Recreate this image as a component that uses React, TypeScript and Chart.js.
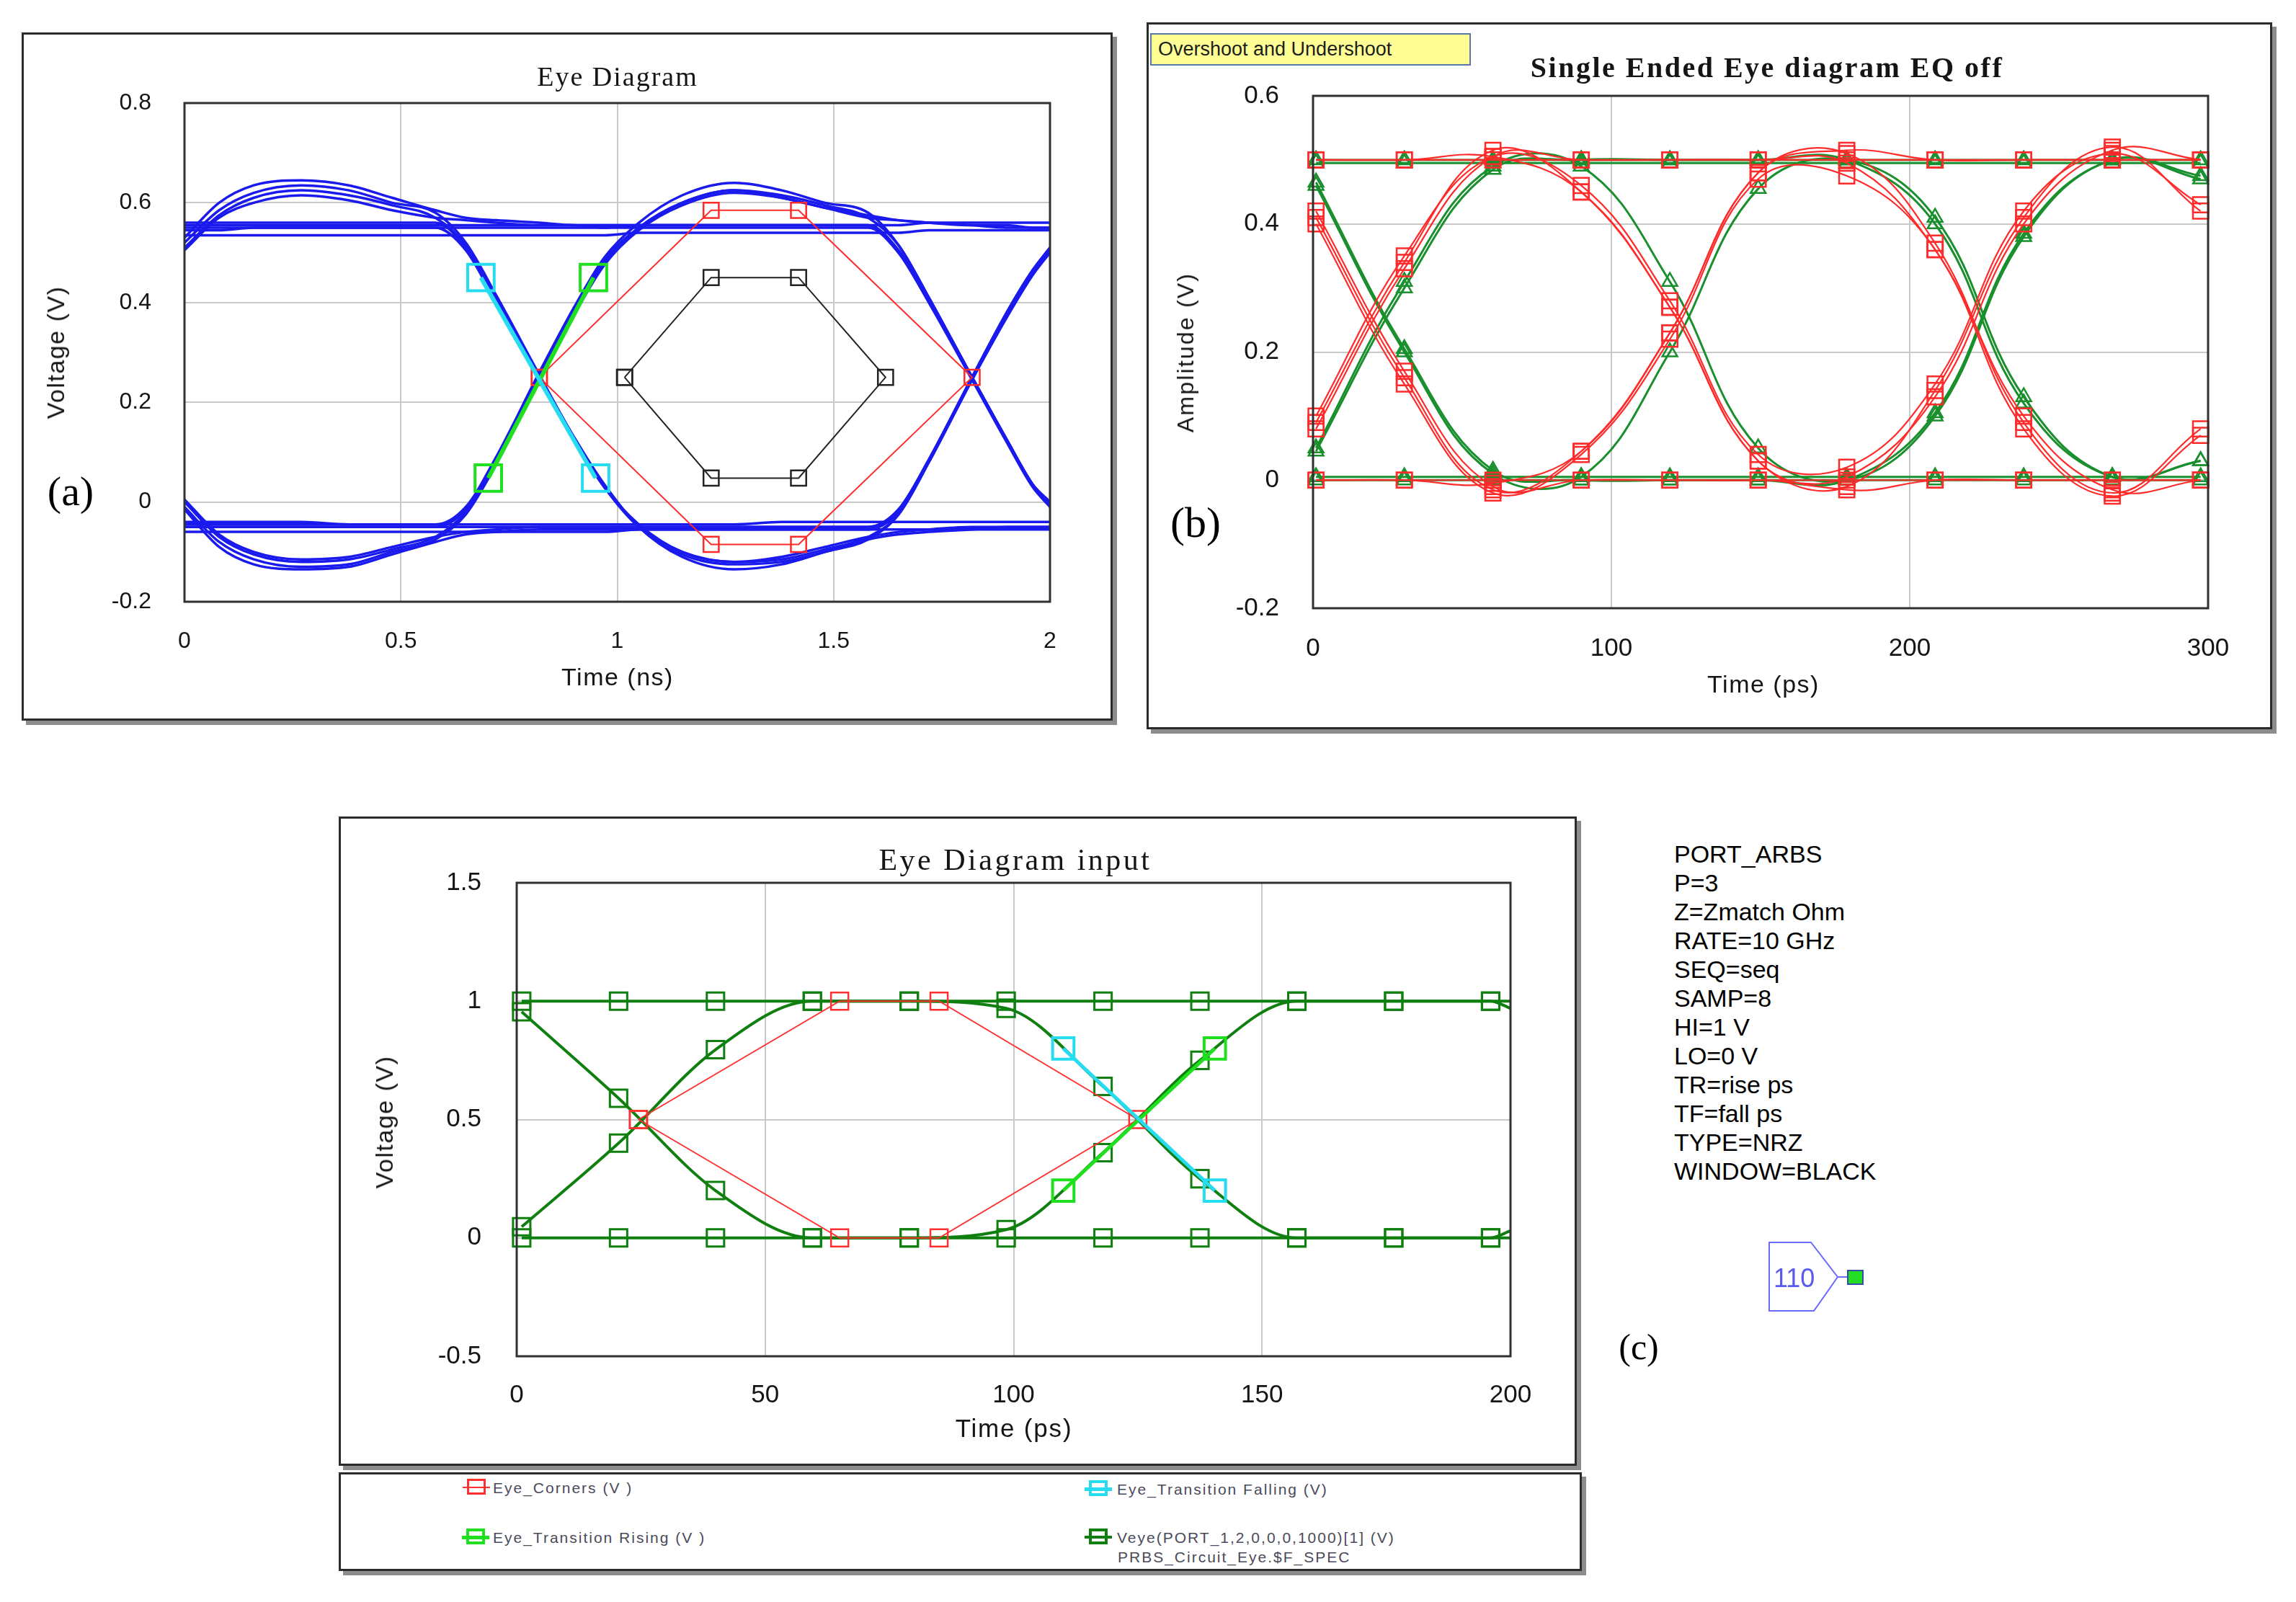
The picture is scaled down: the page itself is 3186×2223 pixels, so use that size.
import React, { useEffect, useRef } from "react";
import { Chart, registerables } from "chart.js";

Chart.register(...registerables);

const SANS = "'Liberation Sans', Arial, Helvetica, sans-serif";
const SERIF = "'Liberation Serif', 'Times New Roman', serif";

// ================= Panel (a): Eye Diagram =================
const A_X_TICKS = [0, 0.5, 1, 1.5, 2];
const A_Y_TICKS = [-0.2, 0, 0.2, 0.4, 0.6, 0.8];
const A_TIME_NS = [0, 0.08, 0.16, 0.27, 0.38, 0.48, 0.58, 0.65, 0.72, 0.82, 0.9, 0.97, 1.05, 1.15, 1.27, 1.38, 1.48, 1.58, 1.65, 1.72, 1.82, 1.9, 1.96, 2.0];
const A_V_01 = [0.51, 0.575, 0.61, 0.625, 0.615, 0.595, 0.57, 0.515, 0.41, 0.25, 0.125, 0.03, -0.05, -0.1, -0.12, -0.115, -0.095, -0.07, -0.025, 0.08, 0.25, 0.38, 0.465, 0.51];
const A_V_02 = [0.0, -0.07, -0.105, -0.12, -0.115, -0.095, -0.07, -0.02, 0.08, 0.25, 0.38, 0.48, 0.55, 0.6, 0.625, 0.615, 0.595, 0.57, 0.515, 0.41, 0.25, 0.125, 0.035, 0.0];
const A_V_03 = [0.505, 0.57, 0.6, 0.615, 0.605, 0.585, 0.57, 0.565, 0.56, 0.555, 0.555, 0.55, 0.55, 0.55, 0.55, 0.55, 0.55, 0.55, 0.5, 0.405, 0.25, 0.125, 0.035, -0.005];
const A_V_04 = [0.005, -0.065, -0.1, -0.115, -0.11, -0.09, -0.07, -0.06, -0.055, -0.05, -0.05, -0.05, -0.05, -0.05, -0.05, -0.05, -0.05, -0.05, -0.015, 0.085, 0.25, 0.375, 0.46, 0.505];
const A_V_05 = [0.55, 0.55, 0.55, 0.55, 0.55, 0.55, 0.55, 0.505, 0.4, 0.245, 0.125, 0.03, -0.045, -0.1, -0.12, -0.11, -0.09, -0.07, -0.06, -0.055, -0.05, -0.05, -0.05, -0.05];
const A_V_06 = [-0.05, -0.05, -0.05, -0.05, -0.05, -0.05, -0.05, -0.015, 0.085, 0.255, 0.385, 0.485, 0.55, 0.6, 0.625, 0.61, 0.59, 0.57, 0.565, 0.56, 0.555, 0.55, 0.55, 0.55];
const A_V_07 = [0.545, 0.545, 0.55, 0.55, 0.55, 0.55, 0.55, 0.55, 0.55, 0.55, 0.55, 0.55, 0.555, 0.555, 0.555, 0.555, 0.555, 0.555, 0.555, 0.56, 0.56, 0.56, 0.56, 0.56];
const A_V_08 = [0.535, 0.535, 0.535, 0.535, 0.535, 0.535, 0.535, 0.535, 0.535, 0.535, 0.535, 0.535, 0.54, 0.54, 0.54, 0.54, 0.54, 0.54, 0.54, 0.545, 0.545, 0.545, 0.545, 0.545];
const A_V_09 = [-0.04, -0.04, -0.04, -0.04, -0.045, -0.045, -0.045, -0.045, -0.045, -0.045, -0.045, -0.045, -0.045, -0.045, -0.045, -0.04, -0.04, -0.04, -0.04, -0.04, -0.04, -0.04, -0.04, -0.04];
const A_V_10 = [-0.06, -0.06, -0.06, -0.06, -0.06, -0.06, -0.06, -0.06, -0.06, -0.06, -0.06, -0.06, -0.055, -0.055, -0.055, -0.055, -0.055, -0.055, -0.055, -0.055, -0.055, -0.055, -0.055, -0.055];
const A_V_11 = [0.52, 0.585, 0.62, 0.635, 0.625, 0.6, 0.58, 0.52, 0.415, 0.255, 0.13, 0.035, -0.05, -0.105, -0.125, -0.12, -0.1, -0.075, -0.065, -0.06, -0.055, -0.05, -0.05, -0.05];
const A_V_12 = [-0.01, -0.08, -0.115, -0.13, -0.125, -0.1, -0.075, -0.025, 0.075, 0.245, 0.375, 0.475, 0.545, 0.595, 0.62, 0.61, 0.59, 0.575, 0.565, 0.56, 0.555, 0.555, 0.55, 0.55];
const A_V_13 = [0.555, 0.555, 0.555, 0.555, 0.555, 0.555, 0.555, 0.555, 0.555, 0.555, 0.555, 0.555, 0.555, 0.555, 0.555, 0.555, 0.555, 0.555, 0.505, 0.405, 0.25, 0.125, 0.035, -0.005];
const A_V_14 = [-0.05, -0.05, -0.05, -0.05, -0.05, -0.05, -0.05, -0.05, -0.05, -0.05, -0.05, -0.05, -0.05, -0.05, -0.05, -0.05, -0.05, -0.05, -0.015, 0.085, 0.25, 0.375, 0.46, 0.505];
const A_V_15 = [0.53, 0.6, 0.635, 0.645, 0.635, 0.61, 0.585, 0.57, 0.565, 0.56, 0.555, 0.555, 0.555, 0.555, 0.555, 0.555, 0.555, 0.555, 0.5, 0.4, 0.245, 0.12, 0.03, -0.01];
const A_V_16 = [-0.015, -0.09, -0.125, -0.135, -0.13, -0.105, -0.08, -0.065, -0.06, -0.055, -0.055, -0.055, -0.055, -0.055, -0.055, -0.055, -0.055, -0.055, -0.02, 0.08, 0.245, 0.37, 0.455, 0.5];
const A_V_17 = [-0.045, -0.045, -0.045, -0.045, -0.045, -0.045, -0.045, -0.01, 0.09, 0.26, 0.39, 0.49, 0.56, 0.615, 0.64, 0.625, 0.6, 0.58, 0.515, 0.41, 0.25, 0.125, 0.035, 0.0];
const A_V_18 = [0.56, 0.56, 0.56, 0.56, 0.56, 0.56, 0.56, 0.51, 0.405, 0.25, 0.13, 0.035, -0.05, -0.11, -0.135, -0.125, -0.1, -0.075, -0.025, 0.08, 0.25, 0.38, 0.465, 0.51];
const A_TRACES = [A_V_01, A_V_02, A_V_03, A_V_04, A_V_05, A_V_06, A_V_07, A_V_08, A_V_09, A_V_10, A_V_11, A_V_12, A_V_13, A_V_14, A_V_15, A_V_16, A_V_17, A_V_18];
const A_CORNER_X = [0.82, 1.217, 1.419, 1.82, 1.419, 1.217, 0.82];
const A_CORNER_Y = [0.25, 0.585, 0.585, 0.25, -0.085, -0.085, 0.25];
const A_MASK_X = [1.017, 1.217, 1.419, 1.62, 1.419, 1.217, 1.017];
const A_MASK_Y = [0.25, 0.45, 0.45, 0.25, 0.048, 0.048, 0.25];
const A_FALL_X = [0.685, 0.95];
const A_FALL_Y = [0.45, 0.048];
const A_RISE_X = [0.702, 0.945];
const A_RISE_Y = [0.048, 0.45];

// ================= Panel (b): Single Ended Eye diagram EQ off =================
const B_X_TICKS = [0, 100, 200, 300];
const B_Y_TICKS = [-0.2, 0, 0.2, 0.4, 0.6];
const B_TIME_PS = [1, 30.6, 60.3, 89.9, 119.6, 149.2, 178.9, 208.5, 238.2, 267.9, 297.5];
const B_RED_1 = [0.09, 0.34, 0.515, 0.45, 0.27, 0.03, -0.01, 0.14, 0.41, 0.52, 0.42];
const B_RED_2 = [0.41, 0.16, -0.015, 0.045, 0.23, 0.48, 0.51, 0.37, 0.09, -0.02, 0.08];
const B_RED_3 = [0.5, 0.5, 0.5, 0.5, 0.5, 0.5, 0.5, 0.5, 0.5, 0.5, 0.5];
const B_RED_4 = [0.0, 0.0, 0.0, 0.0, 0.0, 0.0, 0.0, 0.0, 0.0, 0.0, 0.0];
const B_RED_5 = [0.08, 0.33, 0.505, 0.5, 0.5, 0.5, 0.495, 0.36, 0.1, -0.015, 0.0];
const B_RED_6 = [0.42, 0.17, -0.01, 0.0, 0.0, 0.0, 0.005, 0.13, 0.4, 0.515, 0.5];
const B_RED_7 = [0.5, 0.5, 0.505, 0.45, 0.27, 0.03, -0.015, 0.0, 0.0, 0.0, 0.0];
const B_RED_8 = [0.0, 0.0, -0.005, 0.045, 0.23, 0.48, 0.515, 0.5, 0.5, 0.5, 0.5];
const B_RED_9 = [0.1, 0.35, 0.505, 0.46, 0.28, 0.04, 0.02, 0.15, 0.42, 0.51, 0.43];
const B_RED_10 = [0.4, 0.15, -0.02, 0.04, 0.22, 0.47, 0.475, 0.36, 0.08, -0.025, 0.07];
const B_REDS = [B_RED_1, B_RED_2, B_RED_3, B_RED_4, B_RED_5, B_RED_6, B_RED_7, B_RED_8, B_RED_9, B_RED_10];
const B_GREEN_1 = [0.05, 0.31, 0.49, 0.49, 0.31, 0.05, 0.0, 0.1, 0.38, 0.5, 0.47];
const B_GREEN_2 = [0.46, 0.2, 0.01, 0.005, 0.2, 0.455, 0.5, 0.41, 0.13, 0.005, 0.03];
const B_GREEN_3 = [0.5, 0.5, 0.5, 0.5, 0.5, 0.5, 0.5, 0.5, 0.5, 0.5, 0.5];
const B_GREEN_4 = [0.005, 0.005, 0.005, 0.005, 0.005, 0.005, 0.005, 0.005, 0.005, 0.005, 0.005];
const B_GREEN_5 = [0.045, 0.3, 0.485, 0.5, 0.5, 0.5, 0.5, 0.4, 0.12, 0.005, 0.03];
const B_GREEN_6 = [0.465, 0.205, 0.015, 0.0, 0.0, 0.0, 0.0, 0.105, 0.385, 0.5, 0.475];
const B_GREEN_7 = [0.495, 0.495, 0.495, 0.495, 0.495, 0.495, 0.495, 0.495, 0.495, 0.495, 0.495];
const B_GREEN_8 = [0.0, 0.0, 0.0, 0.0, 0.0, 0.0, 0.0, 0.0, 0.0, 0.0, 0.0];
const B_GREENS = [B_GREEN_1, B_GREEN_2, B_GREEN_3, B_GREEN_4, B_GREEN_5, B_GREEN_6, B_GREEN_7, B_GREEN_8];

// ================= Panel (c): Eye Diagram input =================
const C_X_TICKS = [0, 50, 100, 150, 200];
const C_Y_TICKS = [-0.5, 0, 0.5, 1, 1.5];
const C_TIME_PS = [1, 20.5, 40, 59.5, 79, 98.5, 118, 137.5, 157, 176.5, 196, 200];
const C_VEYE_1 = [0.955, 0.59, 0.2, 0.0, 0.0, 0.035, 0.36, 0.75, 1.0, 1.0, 1.0, 1.0];
const C_VEYE_2 = [0.047, 0.4, 0.795, 1.0, 1.0, 0.97, 0.64, 0.25, 0.0, 0.0, 0.0, 0.0];
const C_VEYE_3 = [1, 1, 1, 1, 1, 1, 1, 1, 1, 1, 1, 0.97];
const C_VEYE_4 = [0, 0, 0, 0, 0, 0, 0, 0, 0, 0, 0, 0.03];
const C_VEYES = [C_VEYE_1, C_VEYE_2, C_VEYE_3, C_VEYE_4];
const C_CORNER_X = [24.5, 65, 85, 125, 85, 65, 24.5];
const C_CORNER_Y = [0.5, 1, 1, 0.5, 0, 0, 0.5];
const C_FALL_X = [110, 140.5];
const C_FALL_Y = [0.8, 0.2];
const C_RISE_X = [110, 140.5];
const C_RISE_Y = [0.2, 0.8];

const PORT_LINES = ["PORT_ARBS", "P=3", "Z=Zmatch Ohm", "RATE=10 GHz", "SEQ=seq", "SAMP=8", "HI=1 V", "LO=0 V", "TR=rise ps", "TF=fall ps", "TYPE=NRZ", "WINDOW=BLACK"];
const LEGEND_NAMES = ["Eye_Corners (V )", "Eye_Transition Falling (V)", "Eye_Transition Rising (V )", "Veye(PORT_1,2,0,0,0,1000)[1] (V)"];

// ================= helpers =================
function series(xs: number[], ys: number[], opts: any) {
  return { data: xs.map((x, i) => ({ x, y: ys[i] })), fill: false, pointRadius: 0, ...opts };
}

const framePlugin = {
  id: "plotFrame",
  afterDraw(chart: any) {
    const { ctx, chartArea: a } = chart;
    ctx.save();
    ctx.strokeStyle = "#303030";
    ctx.lineWidth = 3;
    ctx.strokeRect(a.left, a.top, a.right - a.left, a.bottom - a.top);
    ctx.restore();
  },
};

interface Geom {
  axisW: number; padTop: number; padRight: number; axisH: number;
  font: number; yPad: number; xPad: number;
}

function makeOptions(g: Geom, xr: number[], xt: number[], yr: number[], yt: number[]) {
  const tickFont = { family: SANS, size: g.font };
  return {
    animation: false,
    responsive: false,
    events: [],
    layout: { padding: { left: 0, top: g.padTop, right: g.padRight, bottom: 0 } },
    plugins: { legend: { display: false }, tooltip: { enabled: false }, title: { display: false } },
    scales: {
      x: {
        type: "linear", min: xr[0], max: xr[1],
        afterBuildTicks: (s: any) => { s.ticks = xt.map((v) => ({ value: v })); },
        afterFit: (s: any) => { s.height = g.axisH; },
        grid: { color: "#c9c9c9", lineWidth: 2, drawTicks: false },
        border: { display: false },
        ticks: { font: tickFont, color: "#151515", padding: g.xPad, maxRotation: 0, autoSkip: false, callback: (v: any) => String(v) },
      },
      y: {
        type: "linear", min: yr[0], max: yr[1],
        afterBuildTicks: (s: any) => { s.ticks = yt.map((v) => ({ value: v })); },
        afterFit: (s: any) => { s.width = g.axisW; },
        grid: { color: "#c9c9c9", lineWidth: 2, drawTicks: false },
        border: { display: false },
        ticks: { font: tickFont, color: "#151515", padding: g.yPad, autoSkip: false, callback: (v: any) => String(v) },
      },
    },
  };
}

// ---------- chart configs ----------
function configA() {
  const blue = "#1a1aee";
  const datasets: any[] = [
    series(A_FALL_X, A_FALL_Y, { borderColor: "#25dcf0", borderWidth: 6, pointRadius: 26, pointStyle: "rect", pointBorderWidth: 4, pointBorderColor: "#25dcf0", pointBackgroundColor: "rgba(0,0,0,0)" }),
    series(A_RISE_X, A_RISE_Y, { borderColor: "#1ee01e", borderWidth: 6, pointRadius: 26, pointStyle: "rect", pointBorderWidth: 4, pointBorderColor: "#1ee01e", pointBackgroundColor: "rgba(0,0,0,0)" }),
    series(A_MASK_X, A_MASK_Y, { borderColor: "#222", borderWidth: 2, pointRadius: 15, pointStyle: "rect", pointBorderWidth: 2.5, pointBorderColor: "#222", pointBackgroundColor: "rgba(0,0,0,0)" }),
    series(A_CORNER_X, A_CORNER_Y, { borderColor: "#ff2a2a", borderWidth: 2, pointRadius: 15, pointStyle: "rect", pointBorderWidth: 2.5, pointBorderColor: "#ff2a2a", pointBackgroundColor: "rgba(0,0,0,0)" }),
  ];
  A_TRACES.forEach((ys) => datasets.push(series(A_TIME_NS, ys, { borderColor: blue, borderWidth: 3.5, cubicInterpolationMode: "monotone" })));
  return {
    type: "line",
    data: { datasets },
    options: makeOptions({ axisW: 223, padTop: 95, padRight: 84, axisH: 162, font: 32, yPad: 46, xPad: 36 }, [0, 2], A_X_TICKS, [-0.2, 0.8], A_Y_TICKS),
    plugins: [framePlugin],
  };
}

function configB() {
  const red = "#ff2a2a";
  const green = "#1a8f2e";
  const datasets: any[] = [];
  B_REDS.forEach((ys) => datasets.push(series(B_TIME_PS, ys, { borderColor: red, borderWidth: 2.2, tension: 0.4, clip: false, pointRadius: 15, pointStyle: "rect", pointBorderWidth: 2.5, pointBorderColor: red, pointBackgroundColor: "rgba(0,0,0,0)" })));
  B_GREENS.forEach((ys) => datasets.push(series(B_TIME_PS, ys, { borderColor: green, borderWidth: 3, tension: 0.4, clip: false, pointRadius: 12, pointStyle: "triangle", pointBorderWidth: 2.5, pointBorderColor: green, pointBackgroundColor: "rgba(0,0,0,0)" })));
  return {
    type: "line",
    data: { datasets },
    options: makeOptions({ axisW: 228, padTop: 99, padRight: 86, axisH: 165, font: 35, yPad: 47, xPad: 35 }, [0, 300], B_X_TICKS, [-0.2, 0.6], B_Y_TICKS),
    plugins: [framePlugin],
  };
}

function configC() {
  const dk = "#0f7f0f";
  const last = C_TIME_PS.length - 1;
  const datasets: any[] = [
    series(C_FALL_X, C_FALL_Y, { borderColor: "#25dcf0", borderWidth: 5, clip: false, pointRadius: 21, pointStyle: "rect", pointBorderWidth: 4, pointBorderColor: "#25dcf0", pointBackgroundColor: "rgba(0,0,0,0)" }),
    series(C_RISE_X, C_RISE_Y, { borderColor: "#1ee01e", borderWidth: 5, clip: false, pointRadius: 21, pointStyle: "rect", pointBorderWidth: 4, pointBorderColor: "#1ee01e", pointBackgroundColor: "rgba(0,0,0,0)" }),
    series(C_CORNER_X, C_CORNER_Y, { borderColor: "#ff3030", borderWidth: 1.8, clip: false, pointRadius: 17, pointStyle: "rect", pointBorderWidth: 2.5, pointBorderColor: "#ff3030", pointBackgroundColor: "rgba(0,0,0,0)" }),
  ];
  C_VEYES.forEach((ys) => datasets.push(series(C_TIME_PS, ys, {
    borderColor: dk, borderWidth: 4, cubicInterpolationMode: "monotone", clip: false,
    pointRadius: (ctx: any) => (ctx.dataIndex === last ? 0 : 17), pointStyle: "rect", pointBorderWidth: 3, pointBorderColor: dk, pointBackgroundColor: "rgba(0,0,0,0)",
  })));
  return {
    type: "line",
    data: { datasets },
    options: makeOptions({ axisW: 244, padTop: 89, padRight: 89, axisH: 149, font: 35, yPad: 49, xPad: 33 }, [0, 200], C_X_TICKS, [-0.5, 1.5], C_Y_TICKS),
    plugins: [framePlugin],
  };
}

// ---------- components ----------
function ChartCanvas({ w, h, make }: { w: number; h: number; make: () => any }) {
  const ref = useRef<HTMLCanvasElement>(null);
  useEffect(() => {
    if (!ref.current) return;
    const chart = new Chart(ref.current, make() as any);
    return () => chart.destroy();
  }, [make]);
  return <canvas ref={ref} width={w} height={h} style={{ position: "absolute", left: 0, top: 0, width: w, height: h, display: "block" }} />;
}

function Box({ x, y, w, h, children }: { x: number; y: number; w: number; h: number; children?: any }) {
  return (
    <div style={{ position: "absolute", left: x, top: y, width: w - 6, height: h - 6, border: "3px solid #2b2b2b", background: "#fff", boxShadow: "6px 6px 0 #8c8c8c" }}>
      {children}
    </div>
  );
}

function Txt({ x, y, size, text, family = SANS, weight = 400, rotate = 0, color = "#151515", ls = 0, align = "center" }: any) {
  const tx = align === "center" ? "-50%" : "0";
  return (
    <div style={{ position: "absolute", left: x, top: y, transform: `translate(${tx}, -50%) rotate(${rotate}deg)`, transformOrigin: align === "center" ? "50% 50%" : "0 50%", fontFamily: family, fontSize: size, fontWeight: weight, color, letterSpacing: ls, whiteSpace: "pre", lineHeight: 1 }}>
      {text}
    </div>
  );
}

function LegendIcon({ x, y, color, lw, sq, bw }: any) {
  return (
    <div style={{ position: "absolute", left: x, top: y }}>
      <div style={{ position: "absolute", left: 0, top: -lw / 2, width: 38, height: lw, background: color }} />
      <div style={{ position: "absolute", left: 19 - sq / 2, top: -sq / 2 + 1, width: sq - 2 * bw, height: sq - 2 * bw - 4, border: `${bw}px solid ${color}` }} />
    </div>
  );
}

export default function App() {
  return (
    <div style={{ position: "absolute", left: 0, top: 0, width: 3186, height: 2223, background: "#fff", overflow: "hidden" }}>
      {/* (a) */}
      <Box x={30} y={45} w={1514} h={955}>
        <ChartCanvas w={1508} h={949} make={configA} />
      </Box>
      <Txt x={857} y={106} size={38} family={SERIF} ls={2} text="Eye Diagram" />
      <Txt x={77} y={489} size={34} rotate={-90} ls={1.5} text="Voltage (V)" />
      <Txt x={857} y={939} size={34} ls={1.5} text="Time (ns)" />
      <Txt x={98} y={682} size={58} family={SERIF} color="#000" text="(a)" />

      {/* (b) */}
      <Box x={1591} y={31} w={1562} h={981}>
        <ChartCanvas w={1556} h={975} make={configB} />
      </Box>
      <div style={{ position: "absolute", left: 1596, top: 46, width: 432, height: 41, background: "#ffff96", border: "2px solid #5a78a8", fontFamily: SANS, fontSize: 27, color: "#1d1d1d", lineHeight: "41px", paddingLeft: 9, boxSizing: "content-box", whiteSpace: "nowrap" }}>Overshoot and Undershoot</div>
      <Txt x={2452} y={94} size={40} family={SERIF} weight={700} ls={2.5} text="Single Ended Eye diagram EQ off" />
      <Txt x={1645} y={489} size={32} rotate={-90} ls={2.2} text="Amplitude (V)" />
      <Txt x={2447} y={949} size={34} ls={1.5} text="Time (ps)" />
      <Txt x={1659} y={725} size={60} family={SERIF} color="#000" text="(b)" />

      {/* (c) */}
      <Box x={470} y={1133} w={1718} h={901}>
        <ChartCanvas w={1712} h={895} make={configC} />
      </Box>
      <Txt x={1409} y={1193} size={42} family={SERIF} ls={3.5} text="Eye Diagram input" />
      <Txt x={533} y={1557} size={34} rotate={-90} ls={1.5} text="Voltage (V)" />
      <Txt x={1407} y={1981} size={35} ls={1.8} text="Time (ps)" />
      <Txt x={2274} y={1869} size={50} family={SERIF} color="#000" text="(c)" />

      {/* legend of (c) */}
      <Box x={470} y={2043} w={1725} h={137} />
      <LegendIcon x={642} y={2064} color="#ff3030" lw={2} sq={26} bw={3} />
      <Txt x={684} y={2064} size={21} ls={2} color="#4a4a5a" align="left" text={LEGEND_NAMES[0]} />
      <LegendIcon x={1505} y={2066} color="#25dcf0" lw={5} sq={26} bw={4} />
      <Txt x={1550} y={2066} size={21} ls={2} color="#4a4a5a" align="left" text={LEGEND_NAMES[1]} />
      <LegendIcon x={641} y={2133} color="#1ee01e" lw={5} sq={26} bw={4} />
      <Txt x={684} y={2133} size={21} ls={2} color="#4a4a5a" align="left" text={LEGEND_NAMES[2]} />
      <LegendIcon x={1505} y={2133} color="#0f7f0f" lw={4} sq={26} bw={4} />
      <Txt x={1550} y={2133} size={21} ls={2} color="#4a4a5a" align="left" text={LEGEND_NAMES[3]} />
      <Txt x={1551} y={2160} size={21} ls={2} color="#4a4a5a" align="left" text="PRBS_Circuit_Eye.$F_SPEC" />

      {/* PORT_ARBS annotation */}
      {PORT_LINES.map((t, i) => (
        <Txt key={t} x={2323} y={1185 + i * 40} size={34} color="#000" align="left" text={t} />
      ))}
      <svg style={{ position: "absolute", left: 0, top: 0 }} width={3186} height={2223}>
        <polygon points="2455,1724 2513,1724 2550,1772 2517,1819 2455,1819" fill="none" stroke="#6b6bff" strokeWidth={2} />
        <line x1={2550} y1={1772} x2={2564} y2={1772} stroke="#6b6bff" strokeWidth={2} />
        <rect x={2564} y={1763} width={21} height={19} fill="#22dd22" stroke="#3a4aa8" strokeWidth={2} />
        <text x={2461} y={1786} fontFamily={SANS} fontSize={36} fill="#5a5aee">110</text>
      </svg>
    </div>
  );
}
